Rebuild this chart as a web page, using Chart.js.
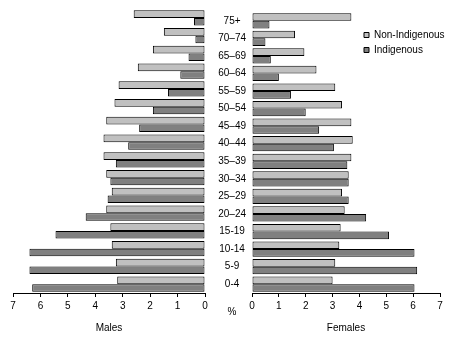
<!DOCTYPE html>
<html>
<head>
<meta charset="utf-8">
<script src="https://cdn.jsdelivr.net/npm/chart.js@4"></script>
<style>
  html, body { margin: 0; padding: 0; background: #fff; overflow: hidden; }
  #wrap { position: relative; width: 467px; height: 345px; }
  #wrap canvas { position: absolute; top: 0; }
</style>
</head>
<body>
<div id="wrap">
  <canvas id="males" width="215" height="345" style="left:0"></canvas>
  <canvas id="females" width="252" height="345" style="left:215px"></canvas>
</div>
<script>
// Age groups, top of the pyramid first
const ageGroups = ['75+', '70–74', '65–69', '60–64', '55–59', '50–54', '45–49', '40–44',
                   '35–39', '30–34', '25–29', '20–24', '15-19', '10-14', '5-9', '0-4'];

// % of population
const maleNonIndigenous = [2.6, 1.5, 1.9, 2.45, 3.15, 3.3, 3.6, 3.7, 3.7, 3.6, 3.4, 3.6, 3.45, 3.4, 3.25, 3.2];
const maleIndigenous = [0.4, 0.35, 0.6, 0.9, 1.35, 1.9, 2.4, 2.8, 3.25, 3.45, 3.55, 4.35, 5.45, 6.4, 6.4, 6.3];
const femaleNonIndigenous = [3.7, 1.6, 1.95, 2.4, 3.1, 3.35, 3.7, 3.75, 3.7, 3.6, 3.35, 3.45, 3.3, 3.25, 3.1, 3.0];
const femaleIndigenous = [0.65, 0.5, 0.7, 1.0, 1.45, 2.0, 2.5, 3.05, 3.55, 3.6, 3.6, 4.25, 5.1, 6.05, 6.15, 6.05];

const seriesNames = ['Non-Indigenous', 'Indigenous'];
const axisMax = 7;

Chart.defaults.font.family = 'Arial, "Liberation Sans", sans-serif';
Chart.defaults.font.size = 10;
Chart.defaults.color = '#000';
Chart.defaults.animation = false;

function makeDatasets(nonInd, ind) {
    return [
        { label: seriesNames[0], data: nonInd, backgroundColor: '#c0c0c0' },
        { label: seriesNames[1], data: ind, backgroundColor: '#808080' }
    ].map(ds => Object.assign(ds, {
        borderColor: '#000',
        borderWidth: 1,
        borderSkipped: false,
        categoryPercentage: 0.87,
        barPercentage: 1.0
    }));
}

function xAxis(title, reverse) {
    return {
        min: 0,
        max: axisMax,
        reverse: reverse,
        ticks: { stepSize: 1, padding: 3 },
        grid: { drawOnChartArea: false, drawTicks: true, tickLength: 4, color: '#000' },
        border: { display: true, color: '#000' },
        title: { display: true, text: title, padding: { top: 4, bottom: 11 } },
        afterFit: scale => { scale.height = 52; }
    };
}

// males: axis runs 7 -> 0
new Chart(document.getElementById('males'), {
    type: 'bar',
    data: { labels: ageGroups, datasets: makeDatasets(maleNonIndigenous, maleIndigenous) },
    options: {
        responsive: false,
        indexAxis: 'y',
        layout: { padding: { left: 13, right: 10, top: 9, bottom: 0 } },
        plugins: { legend: { display: false }, tooltip: { enabled: false } },
        scales: {
            x: xAxis('Males', true),
            y: { display: false }
        }
    }
});

// put the legend up in the top right corner of the females panel
const legendSpot = {
    id: 'legendSpot',
    afterLayout(chart) {
        const lg = chart.legend;
        lg.left = 144;
        lg.top = 25;
        lg.right = 250;
        lg.bottom = 200;
    }
};

// "%" between the two axes
const percentLabel = {
    id: 'percentLabel',
    afterDraw(chart) {
        const ctx = chart.ctx;
        ctx.save();
        ctx.font = '10px Arial, "Liberation Sans", sans-serif';
        ctx.fillStyle = '#000';
        ctx.textAlign = 'center';
        ctx.textBaseline = 'middle';
        ctx.fillText('%', 17, 312);
        ctx.restore();
    }
};

new Chart(document.getElementById('females'), {
    type: 'bar',
    data: { labels: ageGroups, datasets: makeDatasets(femaleNonIndigenous, femaleIndigenous) },
    options: {
        responsive: false,
        indexAxis: 'y',
        layout: { padding: { left: 0, right: 27, top: 9, bottom: 0 } },
        plugins: {
            tooltip: { enabled: false },
            legend: {
                position: 'chartArea',
                align: 'start',
                labels: { boxWidth: 5, boxHeight: 5, padding: 5, color: '#000' }
            }
        },
        scales: {
            x: xAxis('Females', false),
            y: {
                grid: { display: false, drawTicks: false },
                border: { display: false },
                ticks: { crossAlign: 'center', padding: 6 },
                afterFit: scale => { scale.width = 37; }
            }
        }
    },
    plugins: [legendSpot, percentLabel]
});
</script>
</body>
</html>
